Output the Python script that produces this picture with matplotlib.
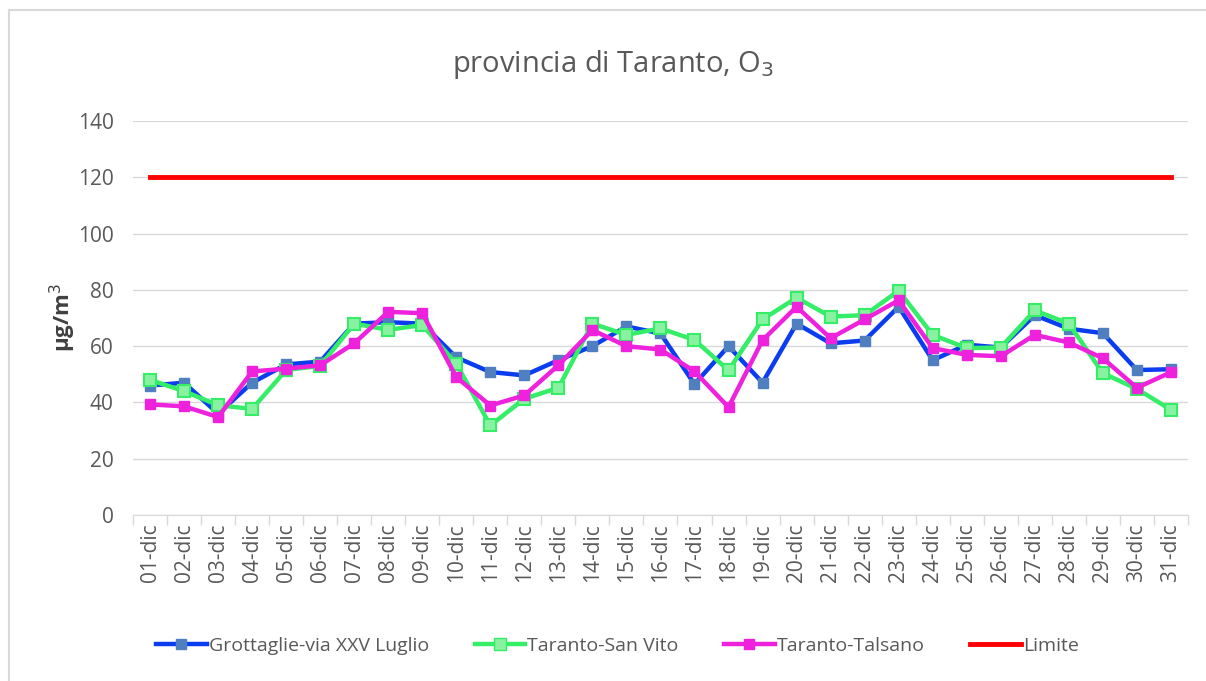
import matplotlib
matplotlib.use("Agg")
import matplotlib.pyplot as plt
from matplotlib.lines import Line2D

days = [f"{d:02d}-dic" for d in range(1, 32)]

grottaglie = [46, 47, 36, 47, 53.5, 54.5, 68, 68.5, 68, 56, 50.8, 49.6, 55, 60, 67, 64.5, 46.5, 60, 47, 68,
              61, 62, 74, 55, 60.5, 59.5, 71, 66.2, 64.6, 51.5, 51.8]
san_vito = [48, 44, 39, 37.7, 51.5, 53, 68, 65.8, 67.5, 53.8, 31.8, 41.3, 45.2, 68, 64, 66.3, 62.2, 51.4, 69.5, 77.2,
            70.5, 71, 79.7, 64, 59.3, 59.5, 72.7, 68, 50.4, 44.8, 37.4]
talsano = [39.3, 38.6, 34.8, 51, 52, 53.2, 61, 72.2, 71.7, 49, 38.9, 42.5, 53.2, 65.7, 60, 58.8, 51, 38.3, 62.1, 74,
           62.8, 69.5, 76.3, 59.3, 56.9, 56.4, 64, 61.3, 55.7, 45.2, 50.7]
limite = [120] * 31

series_names = ["Grottaglie-via XXV Luglio", "Taranto-San Vito", "Taranto-Talsano", "Limite"]

plt.rcParams['font.family'] = ['Open Sans', 'DejaVu Sans']

fig = plt.figure(figsize=(12.06, 6.81), dpi=100)
ax = fig.add_axes([0.1103, 0.2438, 0.8747, 0.5785])

x = list(range(len(days)))
text_color = "#595959"

ax.plot(x, grottaglie, color="#0a3cf0", lw=3.2, marker="s", ms=7,
        markerfacecolor="#4f7fbf", markeredgecolor="#4f7fbf", zorder=3)
ax.plot(x, san_vito, color="#33ee66", lw=3.2, marker="s", ms=8,
        markerfacecolor="#88f2a0", markeredgecolor="#33ee66", markeredgewidth=1.5, zorder=4)
ax.plot(x, talsano, color="#ee22dd", lw=3.2, marker="s", ms=7,
        markerfacecolor="#ee22dd", markeredgecolor="#ee22dd", zorder=5)
ax.plot(x, limite, color="#ff0000", lw=3.5, zorder=2)

ax.set_xlim(-0.5, len(days) - 0.5)
ax.set_ylim(0, 140)
ax.set_yticks(range(0, 141, 20))
ax.yaxis.grid(True, color="#d9d9d9", lw=1)
ax.set_axisbelow(True)

ax.set_xticks(x)
ax.set_xticklabels(days, rotation=90, fontsize=15, color=text_color)
ax.tick_params(axis='x', length=0, pad=6)
ax.set_xticks([i - 0.5 for i in range(len(days) + 1)], minor=True)
ax.tick_params(axis='x', which='minor', length=7, color="#d9d9d9", width=1)
ax.tick_params(axis='y', length=0, labelsize=15, labelcolor=text_color, pad=14)

for s in ["top", "right", "left"]:
    ax.spines[s].set_visible(False)
ax.spines["bottom"].set_color("#d9d9d9")

ax.set_ylabel("μg/m$^3$", fontsize=16, fontweight="bold", color="#404040", labelpad=0)

fig.text(0.508, 0.905, "provincia di Taranto, O$_3$", ha="center", va="center",
         fontsize=21, color=text_color)

handles = [
    Line2D([0], [0], color="#0a3cf0", lw=3.2, marker="s", ms=7, markerfacecolor="#4f7fbf", markeredgecolor="#4f7fbf"),
    Line2D([0], [0], color="#33ee66", lw=3.2, marker="s", ms=8, markerfacecolor="#88f2a0", markeredgecolor="#33ee66"),
    Line2D([0], [0], color="#ee22dd", lw=3.2, marker="s", ms=7, markerfacecolor="#ee22dd", markeredgecolor="#ee22dd"),
    Line2D([0], [0], color="#ff0000", lw=3.5),
]
leg = fig.legend(handles, series_names, loc="center", bbox_to_anchor=(0.512, 0.051), ncol=4,
                 frameon=False, fontsize=14, handlelength=2.6, handletextpad=0.1, columnspacing=2.35)
for t in leg.get_texts():
    t.set_color(text_color)

# figure border (left and top visible)
fig.add_artist(Line2D([0.0075, 0.0075], [0, 0.985], transform=fig.transFigure, color="#d9d9d9", lw=1.5))
fig.add_artist(Line2D([0.0075, 1], [0.985, 0.985], transform=fig.transFigure, color="#d9d9d9", lw=1.5))

fig.savefig("out.png", dpi=100)
